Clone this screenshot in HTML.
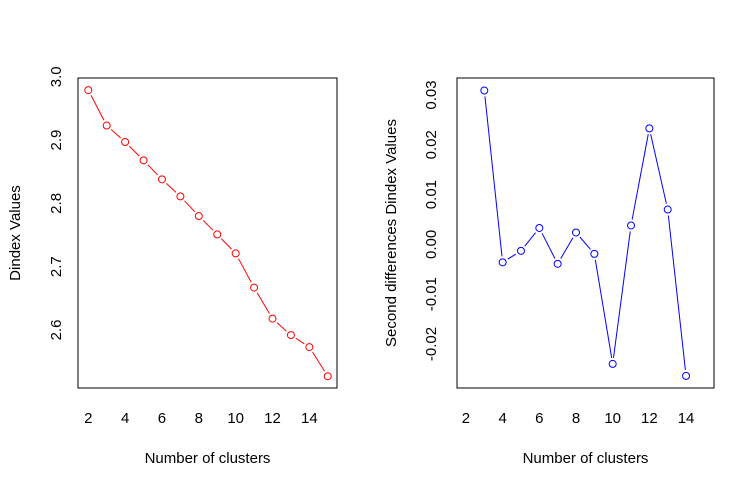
<!DOCTYPE html>
<html><head><meta charset="utf-8"><style>
body{margin:0;background:#fff}
svg text{font-family:"Liberation Sans",Arial,sans-serif;font-size:15px;fill:#000}
</style></head><body>
<svg width="755" height="486" xmlns="http://www.w3.org/2000/svg">
<g id="left"></g>
<g id="right"></g>
</svg>
<script>
const clustersL=[2,3,4,5,6,7,8,9,10,11,12,13,14,15];
const dindexValues=[2.979,2.923,2.897,2.868,2.838,2.811,2.780,2.751,2.721,2.667,2.618,2.592,2.573,2.527];
const yTicksL=["2.6","2.7","2.8","2.9","3.0"];
const clustersR=[3,4,5,6,7,8,9,10,11,12,13,14];
const secondDiffValues=[0.0309,-0.0036,-0.0013,0.0033,-0.0039,0.0024,-0.0019,-0.0240,0.0038,0.0233,0.0070,-0.0264];
const yTicksR=["-0.02","-0.01","0.00","0.01","0.02","0.03"];
const xTicks=["2","4","6","8","10","12","14"];
const NS="http://www.w3.org/2000/svg";
function mk(p,t,a,txt){const e=document.createElementNS(NS,t);for(const k in a)e.setAttribute(k,a[k]);if(txt!==undefined)e.textContent=txt;p.appendChild(e);return e;}
function panel(g,box,xs,ys,xv,yv,yt,color,ylab,ylx,tlx){
  const r=mk(g,'rect',{x:box[0],y:box[1],width:box[2]-box[0],height:box[3]-box[1],fill:'none',stroke:'#000','stroke-width':1});
  
  
  xTicks.forEach(t=>{const e=mk(g,'text',{x:xs(+t),y:423,'text-anchor':'middle'},t);
    
    });
  yt.forEach(t=>{const y=ys(+t);const e=mk(g,'text',{x:0,y:0,'text-anchor':'middle',transform:`translate(${tlx},${y}) rotate(-90)`},t);
    
    });
  const xl=mk(g,'text',{x:(box[0]+box[2])/2,y:463,'text-anchor':'middle'},'Number of clusters');
  
  
  const yl=mk(g,'text',{x:0,y:0,'text-anchor':'middle',transform:`translate(${ylx},${(box[1]+box[3])/2}) rotate(-90)`},ylab);
  
  
  const pts=xv.map((x,i)=>[xs(x),ys(yv[i])]);
  for(let i=0;i<pts.length-1;i++){const [x1,y1]=pts[i],[x2,y2]=pts[i+1];const dx=x2-x1,dy=y2-y1,L=Math.hypot(dx,dy);
    if(L<13)continue;const ux=dx/L*6,uy=dy/L*6;
    const l=mk(g,'line',{x1:x1+ux,y1:y1+uy,x2:x2-ux,y2:y2-uy,stroke:color,'stroke-width':1});
    
    }
  pts.forEach(p=>{const c=mk(g,'circle',{cx:p[0],cy:p[1],r:3.5,fill:'none',stroke:color,'stroke-width':1});
    
    });
}
panel(document.getElementById('left'),[78,78,337,388],v=>88.3+(v-2)*18.42,v=>330-(v-2.6)*633,clustersL,dindexValues,yTicksL,'#ff0000','Dindex Values',20,61);
panel(document.getElementById('right'),[457,78,714,388],v=>484.3+(v-3)*18.34,v=>244.4-v*4980,clustersR,secondDiffValues,yTicksR,'#0000ff','Second differences Dindex Values',396,436);
</script>
</body></html>
